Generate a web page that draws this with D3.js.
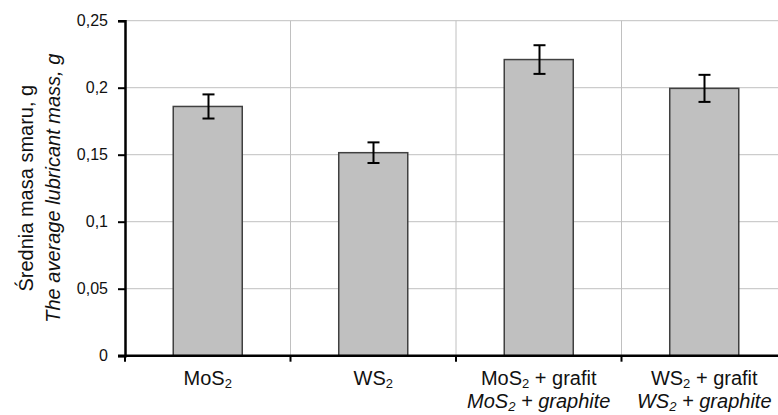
<!DOCTYPE html>
<html>
<head>
<meta charset="utf-8">
<script src="https://cdn.jsdelivr.net/npm/d3@7"></script>
<style>
  body { margin: 0; background: #fff; }
  svg { display: block; font-family: "Liberation Sans", Arial, sans-serif; }
</style>
</head>
<body>
<div id="chart"></div>
<script>
// Categories (main formula + subscript + rest), Polish line and English (italic) line.
const categories = ['MoS2', 'WS2', 'MoS2 + grafit', 'WS2 + grafit'];
const labelsPl = [['MoS', '2', ''], ['WS', '2', ''], ['MoS', '2', ' + grafit'], ['WS', '2', ' + grafit']];
const labelsEn = [null, null, ['MoS', '2', ' + graphite'], ['WS', '2', ' + graphite']];
const values = [0.186, 0.1515, 0.221, 0.1995];
const errors = [0.009, 0.0077, 0.0107, 0.0101];
const yTicks = [0, 0.05, 0.1, 0.15, 0.2, 0.25];

const width = 778, height = 415;
const plot = {left: 125, right: 787, top: 20.7, bottom: 355.7};

const svg = d3.select('#chart')
    .append('svg')
        .attr('width', width)
        .attr('height', height);

const x = d3.scaleBand()
    .domain(categories)
    .range([plot.left, plot.right])
    .paddingInner(0.583)
    .paddingOuter(0.2915);
const step = x.step();
const y = d3.scaleLinear()
    .domain([0, 0.25])
    .range([plot.bottom, plot.top]);

// Gridlines.
svg.append('g')
    .selectAll('line')
    .data(yTicks.slice(1))
    .join('line')
        .attr('x1', plot.left)
        .attr('x2', plot.right)
        .attr('y1', d => y(d))
        .attr('y2', d => y(d))
        .attr('stroke', '#c0c0c0')
        .attr('stroke-width', 1);
svg.append('g')
    .selectAll('line')
    .data(categories.slice(1))
    .join('line')
        .attr('x1', d => x(d) - (step - x.bandwidth()) / 2)
        .attr('x2', d => x(d) - (step - x.bandwidth()) / 2)
        .attr('y1', plot.top)
        .attr('y2', plot.bottom)
        .attr('stroke', '#c0c0c0')
        .attr('stroke-width', 1);

// Bars.
svg.append('g')
    .selectAll('rect')
    .data(categories)
    .join('rect')
        .attr('x', d => x(d))
        .attr('y', (d, i) => y(values[i]))
        .attr('width', x.bandwidth())
        .attr('height', (d, i) => y(0) - y(values[i]))
        .attr('fill', '#c0c0c0')
        .attr('stroke', '#404040')
        .attr('stroke-width', 1.5);

// Error bars.
const err = svg.append('g')
    .attr('stroke', '#000')
    .attr('stroke-width', 2);
categories.forEach((c, i) => {
    const cx = Math.round(x(c) + x.bandwidth() / 2) + 0.5;
    const y1 = y(values[i] + errors[i]);
    const y2 = y(values[i] - errors[i]);
    err.append('line').attr('x1', cx).attr('x2', cx).attr('y1', y1).attr('y2', y2);
    err.append('line').attr('x1', cx - 6).attr('x2', cx + 6).attr('y1', y1).attr('y2', y1);
    err.append('line').attr('x1', cx - 6).attr('x2', cx + 6).attr('y1', y2).attr('y2', y2);
});

// Y axis.
const yAxis = svg.append('g')
    .attr('transform', `translate(${plot.left},0)`)
    .call(d3.axisLeft(y).tickValues(yTicks).tickSize(7).tickPadding(10)
        .tickFormat(d => d3.format('')(d).replace('.', ',')));
yAxis.select('.domain').attr('stroke-width', 2.5);
yAxis.selectAll('.tick line').attr('stroke-width', 2);
yAxis.selectAll('text').style('font-size', '16px').attr('fill', '#111');

// X axis.
const xAxis = svg.append('g')
    .attr('transform', `translate(0,${plot.bottom})`);
xAxis.append('line')
    .attr('x1', plot.left - 7)
    .attr('x2', plot.right)
    .attr('stroke', '#000')
    .attr('stroke-width', 2.5);
xAxis.selectAll('.xtick')
    .data(categories.concat(['end']))
    .join('line')
        .attr('x1', (d, i) => plot.left + i * step)
        .attr('x2', (d, i) => plot.left + i * step)
        .attr('y1', 0)
        .attr('y2', 6)
        .attr('stroke', '#000')
        .attr('stroke-width', 2);

function addLabel(parts, cx, yy, italic) {
    const t = svg.append('text')
        .attr('x', cx)
        .attr('y', yy)
        .attr('text-anchor', 'middle')
        .style('font-size', '20px')
        .style('font-style', italic ? 'italic' : 'normal')
        .attr('fill', '#111');
    t.append('tspan').text(parts[0]);
    t.append('tspan').attr('dy', 3).style('font-size', '13px').text(parts[1]);
    t.append('tspan').attr('dy', -3).text(parts[2]);
}
categories.forEach((c, i) => {
    const cx = x(c) + x.bandwidth() / 2;
    addLabel(labelsPl[i], cx, 385, false);
    if (labelsEn[i]) addLabel(labelsEn[i], cx, 408, true);
});

// Y axis title.
const title = svg.append('text')
    .attr('transform', `translate(33,${(plot.top + plot.bottom) / 2}) rotate(-90)`)
    .attr('text-anchor', 'middle')
    .style('font-size', '20px')
    .attr('fill', '#111');
title.append('tspan').attr('x', 0).attr('dy', 0).text('Średnia masa smaru, g');
title.append('tspan').attr('x', 0).attr('dy', 27).style('font-style', 'italic').text('The average lubricant mass, g');
</script>
</body>
</html>
